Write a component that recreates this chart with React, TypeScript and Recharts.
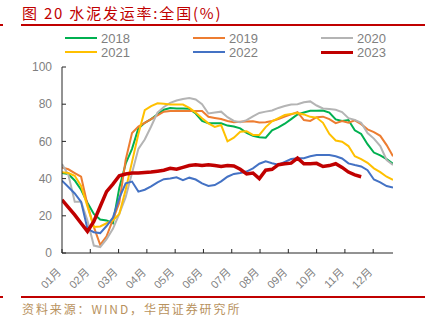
import React from 'react';
import { LineChart, Line, XAxis, YAxis } from 'recharts';

const months = ['01月', '02月', '03月', '04月', '05月', '06月', '07月', '08月', '09月', '10月', '11月', '12月'];
const yTicks = [0, 20, 40, 60, 80, 100];

// weekly shipment rate, %
const s2018 = [43, 42.5, 39, 34, 27, 21, 18, 17.5, 16, 35, 48, 56, 67, 70, 72, 74.5, 77, 78, 77.7, 77.7, 77.5, 75, 71, 69.7, 69.7, 69.7, 68.5, 68, 67, 64.6, 63, 62.2, 62, 66, 67.5, 69.5, 72, 74.5, 75.5, 76.5, 76.5, 76.6, 75.5, 71.8, 71, 71.5, 66, 64, 58.5, 54, 52.5, 50.5, 48];
const s2019 = [46, 45, 43, 41, 26, 14, 4.4, 9, 18, 27, 50, 64.5, 68, 70, 72, 74, 76, 76.4, 76.4, 76.4, 76.4, 76.4, 76.4, 73.2, 72.6, 72, 71, 70.3, 70.5, 70.7, 70.8, 70.2, 70.3, 71, 72, 73.3, 74.5, 75.7, 71.5, 71, 73, 73.3, 72, 69.8, 70.9, 70, 71.3, 69.3, 66.5, 65, 63, 58, 52];
const s2020 = [47.9, 42, 27.6, 27.6, 17.5, 4, 3.2, 7.5, 13, 21, 30, 43, 56, 61, 68, 75.5, 78.5, 80.7, 82, 82.8, 83.3, 82.5, 80, 75, 75.5, 76, 73, 71, 70.3, 71.4, 73.5, 75.3, 76, 76.6, 78, 79, 79.8, 80, 81, 81.5, 79.3, 77.7, 77.4, 77, 75.8, 72.5, 71.6, 70, 64.5, 61.5, 57.5, 50, 47.3];
const s2021 = [43.4, 43, 41.5, 36, 25, 14, 14.3, 16, 17.5, 21, 34, 49, 64, 76.8, 79, 80.5, 80.2, 79.8, 79.8, 79.8, 78, 75.5, 72.5, 69.7, 67.8, 68.8, 60, 62, 65.2, 65.5, 63.5, 63.5, 67.7, 70.8, 72.5, 74.2, 74.8, 75.2, 74.5, 73.2, 72.8, 70, 64, 60.5, 59.8, 57.5, 52, 50.5, 48.5, 45.5, 43.5, 41, 39.3];
const s2022 = [38.9, 35.5, 32, 27.5, 13, 11.2, 10.7, 14.5, 19, 29.5, 37.5, 38.4, 33, 34, 35.8, 38, 39.7, 40, 40.7, 39.2, 40.5, 39.5, 37.4, 36, 36.5, 38.5, 41, 42.5, 43, 43.8, 45.5, 48, 49.3, 48.3, 47.5, 49, 50.5, 51, 51, 52, 52.7, 52.7, 52.7, 52, 50.8, 48.2, 47.3, 46.5, 44.5, 39.5, 38, 36, 35.2];
const s2023 = [28.6, 24.5, 20.5, 16, 11.6, 17, 25, 33, 37, 41.5, 42.5, 43, 43, 43.3, 43.5, 44, 44.5, 45.5, 45, 46, 47, 47.5, 47, 47.5, 47, 46.5, 47, 46.8, 45, 42.5, 43, 40, 44.5, 45, 47.5, 48, 48.3, 51, 48, 48, 48.2, 46.5, 47, 48, 46, 43.5, 42, 41];

const series = [
  { key: 'y2018', name: '2018', values: s2018, color: '#00b050', width: 2 },
  { key: 'y2019', name: '2019', values: s2019, color: '#ed7d31', width: 2 },
  { key: 'y2020', name: '2020', values: s2020, color: '#b4b4b4', width: 2 },
  { key: 'y2021', name: '2021', values: s2021, color: '#ffc000', width: 2 },
  { key: 'y2022', name: '2022', values: s2022, color: '#4472c4', width: 2 },
  { key: 'y2023', name: '2023', values: s2023, color: '#c00000', width: 3.5 },
];

const WEEKS = 52;
const weeksPerMonth = WEEKS / 11.7;
const monthTicks = months.map((_, i) => i * weeksPerMonth);

const data = Array.from({ length: WEEKS + 1 }, (_, i) => {
  const row: any = { week: i };
  series.forEach(s => { row[s.key] = s.values[i]; });
  return row;
});

const XTick = (props: any) => {
  const { x, y, index } = props;
  const tx = x - 3;
  const ty = y + 7;
  return (
    <text x={tx} y={ty} transform={`rotate(-45 ${tx} ${ty})`} textAnchor="end" dominantBaseline="central"
      fontSize={11} fill="#7f7f7f" fontFamily="'Liberation Sans', 'Noto Sans CJK SC', sans-serif">
      {months[index]}
    </text>
  );
};

const font = "'Liberation Sans', Arial, sans-serif";
const cjk = "'Noto Sans CJK SC', sans-serif";

export default function App() {
  const legendCols = [65, 193, 321];
  return (
    <div style={{ position: 'relative', width: 433, height: 323, background: '#fff', overflow: 'hidden' }}>
      <style>{'body{margin:0}'}</style>
      <div style={{ position: 'absolute', left: 22, top: 2, fontFamily: cjk, fontSize: 15, color: '#c00000', letterSpacing: 1.8, whiteSpace: 'nowrap' }}>
        图 20 水泥发运率:全国(%)
      </div>
      <div style={{ position: 'absolute', left: 21, top: 24, width: 404, height: 2, background: '#c00000' }} />
      <div style={{ position: 'absolute', left: 0, top: 24, width: 3, height: 2, background: '#c00000' }} />
      {series.map((s, i) => (
        <div key={s.key} style={{ position: 'absolute', left: legendCols[i % 3], top: i < 3 ? 30 : 44, height: 16, display: 'flex', alignItems: 'center' }}>
          <div style={{ width: 32, height: s.width > 2 ? 3 : 2, background: s.color }} />
          <span style={{ marginLeft: 4, fontFamily: font, fontSize: 13, color: '#7f7f7f' }}>{s.name}</span>
        </div>
      ))}
      <div style={{ position: 'absolute', left: 0, top: 0 }}>
        <LineChart width={433} height={323} data={data} margin={{ top: 67, right: 40, bottom: 40, left: 32 }}>
          <XAxis dataKey="week" type="number" domain={[0, WEEKS]} ticks={monthTicks} interval={0}
            height={30} tickSize={-4} tickMargin={14} axisLine={{ stroke: '#262626' }} tickLine={{ stroke: '#262626' }}
            tick={<XTick />} allowDataOverflow />
          <YAxis domain={[0, 100]} ticks={yTicks} width={30} tickSize={-4} tickMargin={14}
            axisLine={{ stroke: '#262626' }} tickLine={{ stroke: '#262626' }}
            tick={{ fontSize: 12, fill: '#7f7f7f', fontFamily: font }} />
          {series.map(s => (
            <Line key={s.key} dataKey={s.key} name={s.name} type="linear" stroke={s.color} strokeWidth={s.width}
              dot={false} isAnimationActive={false} connectNulls={false} />
          ))}
        </LineChart>
      </div>
      <div style={{ position: 'absolute', left: 21, top: 296, width: 404, height: 2, background: '#c00000' }} />
      <div style={{ position: 'absolute', left: 0, top: 296, width: 3, height: 2, background: '#c00000' }} />
      <div style={{ position: 'absolute', left: 22, top: 300, fontFamily: cjk, fontSize: 12, color: '#b8925e', letterSpacing: 1.9, whiteSpace: 'nowrap' }}>
        资料来源：WIND，华西证券研究所
      </div>
    </div>
  );
}
